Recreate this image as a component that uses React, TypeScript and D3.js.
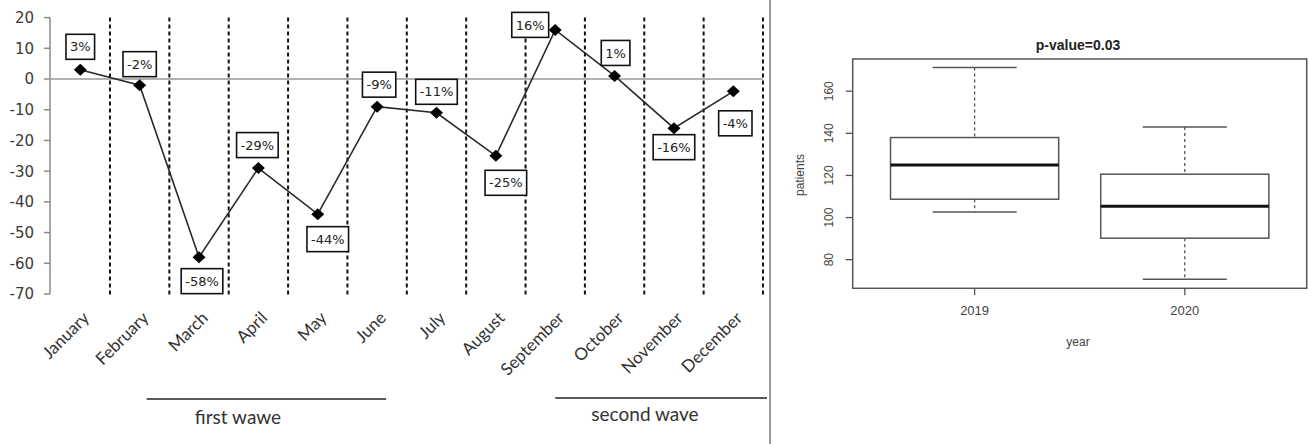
import React, { useEffect, useRef } from "react";
import * as d3 from "d3";

// monthly change (%) vs previous year
const months = ["January", "February", "March", "April", "May", "June", "July", "August", "September", "October", "November", "December"];
const pctChange = [3, -2, -58, -29, -44, -9, -11, -25, 16, 1, -16, -4];
const pctLabels = ["3%", "-2%", "-58%", "-29%", "-44%", "-9%", "-11%", "-25%", "16%", "1%", "-16%", "-4%"];
// where each data label sits relative to its point
const labelShift = [[0, -23], [0, -21], [3, 24], [-1, -23], [10, 25], [2, -22], [0, -21], [10, 27], [-25, -5], [1, -23], [0, 19], [2, 32]];
const yTicksLeft = [20, 10, 0, -10, -20, -30, -40, -50, -60, -70];

// boxplot stats, patients per year
const years = ["2019", "2020"];
const whiskLow = [102.6, 70.7];
const q1 = [108.7, 90.2];
const medians = [124.9, 105.4];
const q3 = [138, 120.6];
const whiskHigh = [171.3, 143];
const yTicksRight = [80, 100, 120, 140, 160];

const W = 1309, H = 444;

export default function App() {
  const ref = useRef<SVGSVGElement>(null);

  useEffect(() => {
    const svg = d3.select(ref.current);
    svg.selectAll("*").remove();
    svg.append("rect").attr("width", W).attr("height", H).attr("fill", "#fff");

    // ---------- left: line chart ----------
    const x = d3.scaleBand().domain(months).range([50.6, 763]);
    const y = d3.scaleLinear().domain([-70, 20]).range([294, 17.6]);
    const cx = (m: string) => (x(m) as number) + x.bandwidth() / 2;

    const left = svg.append("g");

    // dashed month separators
    months.forEach((m) => {
      const xx = (x(m) as number) + x.bandwidth();
      left.append("line")
        .attr("x1", xx).attr("x2", xx)
        .attr("y1", y(20)).attr("y2", y(-70) + 2)
        .attr("stroke", "#111").attr("stroke-width", 2)
        .attr("stroke-dasharray", "4,3");
    });

    // y axis
    left.append("line").attr("x1", 50).attr("x2", 50).attr("y1", y(20)).attr("y2", y(-70))
      .attr("stroke", "#8a8a8a").attr("stroke-width", 1.5);
    yTicksLeft.forEach((t) => {
      left.append("line").attr("x1", 44).attr("x2", 50).attr("y1", y(t)).attr("y2", y(t))
        .attr("stroke", "#8a8a8a").attr("stroke-width", 1.5);
      left.append("text").attr("x", 34).attr("y", y(t)).attr("dy", "0.36em")
        .attr("text-anchor", "end").attr("font-family", "DejaVu Sans").attr("font-size", 15)
        .attr("fill", "#3a3a3a").text(t);
    });

    // zero line
    left.append("line").attr("x1", 50).attr("x2", 763).attr("y1", y(0)).attr("y2", y(0))
      .attr("stroke", "#999").attr("stroke-width", 1.5);

    // series line
    const line = d3.line<number>().x((_, i) => cx(months[i])).y((d) => y(d));
    left.append("path").datum(pctChange).attr("d", line)
      .attr("fill", "none").attr("stroke", "#2a2a2a").attr("stroke-width", 1.6);

    // diamond markers
    pctChange.forEach((v, i) => {
      const px = cx(months[i]), py = y(v);
      left.append("path")
        .attr("d", `M${px - 6.5},${py}L${px},${py - 6}L${px + 6.5},${py}L${px},${py + 6}Z`)
        .attr("fill", "#000");
    });

    // data labels in boxes
    pctChange.forEach((v, i) => {
      const px = cx(months[i]) + labelShift[i][0], py = y(v) + labelShift[i][1];
      const g = left.append("g");
      const rect = g.append("rect");
      const txt = g.append("text").attr("x", px).attr("y", py).attr("dy", "0.36em")
        .attr("text-anchor", "middle").attr("font-family", "DejaVu Sans").attr("font-size", 13)
        .attr("fill", "#222").text(pctLabels[i]);
      const tw = (txt.node() as SVGTextElement).getComputedTextLength();
      rect.attr("x", px - tw / 2 - 4).attr("y", py - 12.5).attr("width", tw + 8).attr("height", 25)
        .attr("fill", "#fff").attr("stroke", "#111").attr("stroke-width", 1.6);
    });

    // month labels
    months.forEach((m) => {
      left.append("text")
        .attr("transform", `translate(${cx(m) + 1},${310}) rotate(-45)`)
        .attr("dy", "0.75em").attr("text-anchor", "end")
        .attr("font-family", "Lato").attr("font-size", 17).attr("fill", "#333")
        .text(m);
    });

    // wave annotations
    const annot = [
      { from: cx("February") + 7, to: cx("June") + 9, ly: 399, label: "first wawe", tx: 238, ty: 424 },
      { from: cx("September"), to: 767, ly: 398, label: "second wave", tx: 645, ty: 421 },
    ];
    annot.forEach((a) => {
      left.append("line").attr("x1", a.from).attr("x2", a.to).attr("y1", a.ly).attr("y2", a.ly)
        .attr("stroke", "#222").attr("stroke-width", 1.6);
      left.append("text").attr("x", a.tx).attr("y", a.ty).attr("text-anchor", "middle")
        .attr("font-family", "Lato").attr("font-size", 19).attr("fill", "#333").text(a.label);
    });

    // panel separator
    svg.append("line").attr("x1", 770).attr("x2", 770).attr("y1", 0).attr("y2", H)
      .attr("stroke", "#9a9a9a").attr("stroke-width", 2);

    // ---------- right: boxplot ----------
    const bx = d3.scaleLinear().domain([0.42, 2.58]).range([852.7, 1306.7]);
    const by = d3.scaleLinear().domain([66.4, 175.3]).range([288.3, 59]);
    const right = svg.append("g");
    const grey = "#555";
    const font = "Liberation Sans, Arial, sans-serif";

    right.append("rect").attr("x", bx(0.42)).attr("y", by(175.3))
      .attr("width", bx(2.58) - bx(0.42)).attr("height", by(66.4) - by(175.3))
      .attr("fill", "none").attr("stroke", grey).attr("stroke-width", 1.5);

    right.append("text").attr("x", 1078).attr("y", 50).attr("text-anchor", "middle")
      .attr("font-family", font).attr("font-weight", "bold").attr("font-size", 14)
      .attr("fill", "#222").text("p-value=0.03");

    yTicksRight.forEach((t) => {
      right.append("line").attr("x1", bx(0.42) - 7).attr("x2", bx(0.42)).attr("y1", by(t)).attr("y2", by(t))
        .attr("stroke", grey).attr("stroke-width", 1.3);
      right.append("text").attr("transform", `translate(${833},${by(t)}) rotate(-90)`)
        .attr("text-anchor", "middle").attr("font-family", font).attr("font-size", 12)
        .attr("fill", "#444").text(t);
    });
    right.append("text").attr("transform", `translate(${804},${175}) rotate(-90)`)
      .attr("text-anchor", "middle").attr("font-family", font).attr("font-size", 12)
      .attr("fill", "#444").text("patients");

    years.forEach((yr, i) => {
      const c = bx(i + 1);
      const half = (bx(1.4) - bx(1)) ;
      right.append("line").attr("x1", c).attr("x2", c).attr("y1", by(66.4)).attr("y2", by(66.4) + 7)
        .attr("stroke", grey).attr("stroke-width", 1.3);
      right.append("text").attr("x", c).attr("y", 315).attr("text-anchor", "middle")
        .attr("font-family", font).attr("font-size", 13).attr("fill", "#444").text(yr);

      // whiskers
      right.append("line").attr("x1", c).attr("x2", c).attr("y1", by(whiskHigh[i])).attr("y2", by(q3[i]))
        .attr("stroke", grey).attr("stroke-width", 1.3).attr("stroke-dasharray", "3,3");
      right.append("line").attr("x1", c).attr("x2", c).attr("y1", by(q1[i])).attr("y2", by(whiskLow[i]))
        .attr("stroke", grey).attr("stroke-width", 1.3).attr("stroke-dasharray", "3,3");
      [whiskHigh[i], whiskLow[i]].forEach((v) => {
        right.append("line").attr("x1", c - half / 2).attr("x2", c + half / 2).attr("y1", by(v)).attr("y2", by(v))
          .attr("stroke", grey).attr("stroke-width", 1.5);
      });
      // box
      right.append("rect").attr("x", c - half).attr("y", by(q3[i]))
        .attr("width", half * 2).attr("height", by(q1[i]) - by(q3[i]))
        .attr("fill", "#fff").attr("stroke", grey).attr("stroke-width", 1.5);
      right.append("line").attr("x1", c - half).attr("x2", c + half).attr("y1", by(medians[i])).attr("y2", by(medians[i]))
        .attr("stroke", "#111").attr("stroke-width", 3);
    });

    right.append("text").attr("x", 1078).attr("y", 346).attr("text-anchor", "middle")
      .attr("font-family", font).attr("font-size", 12).attr("fill", "#444").text("year");
  }, []);

  return (
    <svg ref={ref} width={W} height={H}
      style={{ position: "absolute", left: 0, top: 0, display: "block" }} />
  );
}
